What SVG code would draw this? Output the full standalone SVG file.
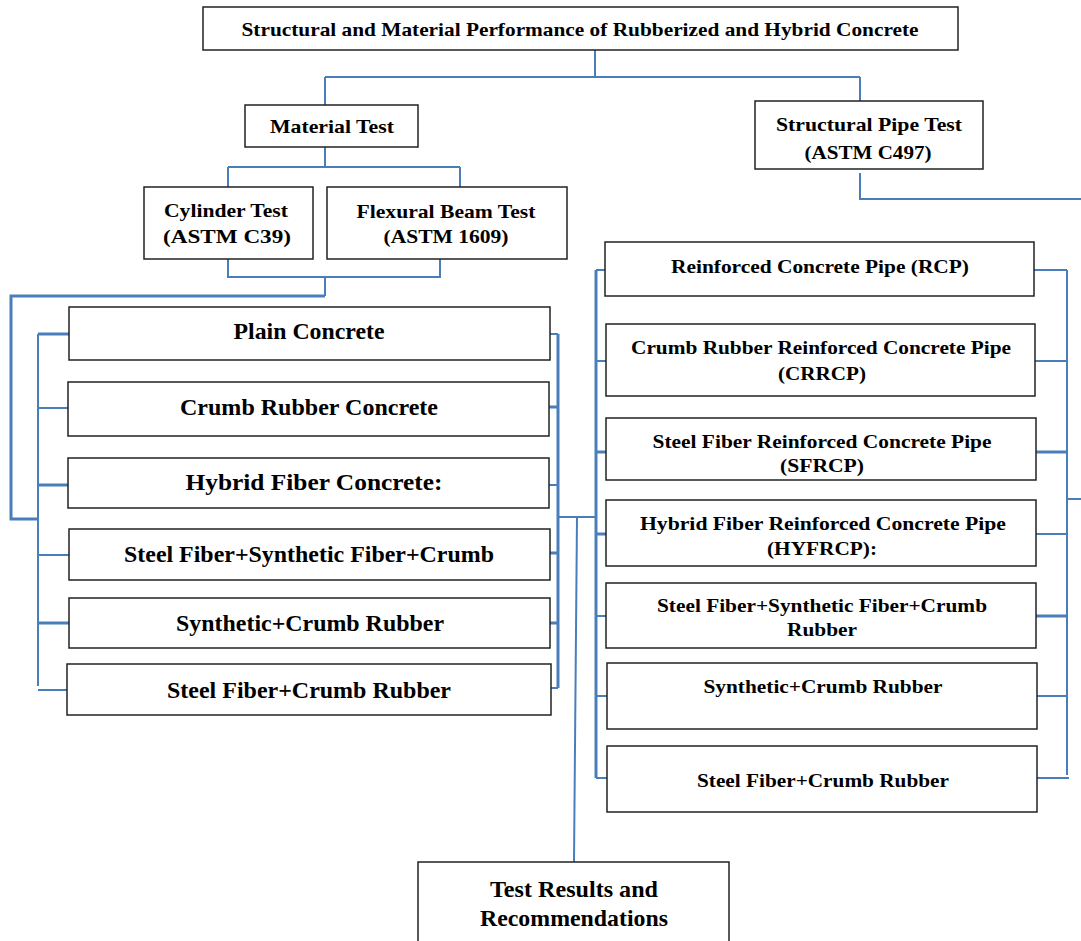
<svg xmlns="http://www.w3.org/2000/svg" width="1081" height="941" viewBox="0 0 1081 941">
<style>
.box{fill:#fff;stroke:#222;stroke-width:1.5}
.t{font-family:"Liberation Serif","Times New Roman",serif;font-weight:bold;fill:#000;text-anchor:middle}
.s17{font-size:18.5px}.s18{font-size:19.5px}.s21{font-size:23px}
.c{fill:none;stroke:#4a7ebb;stroke-width:2}
.ct{fill:none;stroke:#4a7ebb;stroke-width:3}
</style>
<rect width="1081" height="941" fill="#fff"/>
<g id="connectors">
<path class="c" d="M595,50V77M325,77H860M325,77V105M860,77V101"/>
<path class="c" d="M325,147V167M228,167H460M228,167V187M460,167V187"/>
<path class="c" d="M228,259V277H440V259M325,277V296"/>
<path class="ct" d="M325,296H11V519H38"/>
<path class="c" d="M38,334V686"/>
<path class="ct" d="M38,334H69M38,485H68M38,623H69"/>
<path class="c" d="M38,408H68M38,555H69M38,690H67"/>
<path class="ct" d="M558,334V688"/>
<path class="c" d="M550,334H558M549,485H558M551,688H558"/>
<path class="ct" d="M549,407H558M550,553H558M550,623H558"/>
<path class="c" d="M558,517H596"/>
<path class="c" d="M577,517L574,862" stroke-width="2.5"/>
<path class="ct" d="M596,270V778"/>
<path class="c" d="M596,270H605M596,361H606M596,616H606M596,696H607M596,778H607"/>
<path class="ct" d="M596,452H606M596,534H606"/>
<path class="c" d="M860,173V199H1081"/>
<path class="c" d="M1067,270V775M1067,499H1081"/>
<path class="c" d="M1034,270H1067M1035,361H1067M1036,534H1067M1037,696H1067M1037,778H1069"/>
<path class="ct" d="M1036,452H1067M1036,616H1067"/>
</g>
<g id="n-title"><rect class="box" x="203" y="7" width="755" height="43"/><text class="t s18" x="580" y="36" textLength="677" lengthAdjust="spacingAndGlyphs">Structural and Material Performance of Rubberized and Hybrid Concrete</text></g>
<g id="n-material"><rect class="box" x="245" y="105" width="173" height="42"/><text class="t s18" x="332" y="133" textLength="124" lengthAdjust="spacingAndGlyphs">Material Test</text></g>
<g id="n-pipe"><rect class="box" x="755" y="101" width="228" height="68"/><text class="t s18" x="869" y="131" textLength="186" lengthAdjust="spacingAndGlyphs">Structural Pipe Test</text><text class="t s18" x="868" y="159" textLength="127" lengthAdjust="spacingAndGlyphs">(ASTM C497)</text></g>
<g id="n-cylinder"><rect class="box" x="144" y="187" width="169" height="72"/><text class="t s18" x="226" y="217" textLength="124" lengthAdjust="spacingAndGlyphs">Cylinder Test</text><text class="t s18" x="227" y="243" textLength="128" lengthAdjust="spacingAndGlyphs">(ASTM C39)</text></g>
<g id="n-flexural"><rect class="box" x="327" y="187" width="240" height="72"/><text class="t s18" x="446" y="218" textLength="179" lengthAdjust="spacingAndGlyphs">Flexural Beam Test</text><text class="t s18" x="446" y="243" textLength="125" lengthAdjust="spacingAndGlyphs">(ASTM 1609)</text></g>
<g id="n-plain"><rect class="box" x="69" y="307" width="481" height="53"/><text class="t s21" x="309" y="339" textLength="151" lengthAdjust="spacingAndGlyphs">Plain Concrete</text></g>
<g id="n-crumb"><rect class="box" x="68" y="382" width="481" height="54"/><text class="t s21" x="309" y="415" textLength="258" lengthAdjust="spacingAndGlyphs">Crumb Rubber Concrete</text></g>
<g id="n-hybrid"><rect class="box" x="68" y="458" width="481" height="50"/><text class="t s21" x="314" y="490" textLength="257" lengthAdjust="spacingAndGlyphs">Hybrid Fiber Concrete:</text></g>
<g id="n-ssc"><rect class="box" x="69" y="529" width="481" height="51"/><text class="t s21" x="309" y="562" textLength="370" lengthAdjust="spacingAndGlyphs">Steel Fiber+Synthetic Fiber+Crumb</text></g>
<g id="n-sc"><rect class="box" x="69" y="598" width="481" height="50"/><text class="t s21" x="310" y="631" textLength="268" lengthAdjust="spacingAndGlyphs">Synthetic+Crumb Rubber</text></g>
<g id="n-stc"><rect class="box" x="67" y="664" width="484" height="51"/><text class="t s21" x="309" y="698" textLength="284" lengthAdjust="spacingAndGlyphs">Steel Fiber+Crumb Rubber</text></g>
<g id="n-rcp"><rect class="box" x="605" y="242" width="429" height="54"/><text class="t s17" x="820" y="273" textLength="298" lengthAdjust="spacingAndGlyphs">Reinforced Concrete Pipe (RCP)</text></g>
<g id="n-crrcp"><rect class="box" x="606" y="324" width="429" height="72"/><text class="t s17" x="821" y="354" textLength="380" lengthAdjust="spacingAndGlyphs">Crumb Rubber Reinforced Concrete Pipe</text><text class="t s17" x="822" y="380" textLength="88" lengthAdjust="spacingAndGlyphs">(CRRCP)</text></g>
<g id="n-sfrcp"><rect class="box" x="606" y="418" width="430" height="62"/><text class="t s17" x="822" y="448" textLength="339" lengthAdjust="spacingAndGlyphs">Steel Fiber Reinforced Concrete Pipe</text><text class="t s17" x="822" y="472" textLength="84" lengthAdjust="spacingAndGlyphs">(SFRCP)</text></g>
<g id="n-hyfrcp"><rect class="box" x="606" y="500" width="430" height="66"/><text class="t s17" x="823" y="530" textLength="366" lengthAdjust="spacingAndGlyphs">Hybrid Fiber  Reinforced Concrete Pipe</text><text class="t s17" x="822" y="555" textLength="110" lengthAdjust="spacingAndGlyphs">(HYFRCP):</text></g>
<g id="n-pssc"><rect class="box" x="606" y="583" width="430" height="65"/><text class="t s17" x="822" y="612" textLength="330" lengthAdjust="spacingAndGlyphs">Steel Fiber+Synthetic Fiber+Crumb</text><text class="t s17" x="822" y="636" textLength="70" lengthAdjust="spacingAndGlyphs">Rubber</text></g>
<g id="n-psc"><rect class="box" x="607" y="663" width="430" height="66"/><text class="t s17" x="823" y="693" textLength="239" lengthAdjust="spacingAndGlyphs">Synthetic+Crumb Rubber</text></g>
<g id="n-pstc"><rect class="box" x="607" y="746" width="430" height="66"/><text class="t s17" x="823" y="787" textLength="252" lengthAdjust="spacingAndGlyphs">Steel Fiber+Crumb Rubber</text></g>
<g id="n-results"><rect class="box" x="418" y="862" width="311" height="85"/><text class="t s21" x="574" y="897" textLength="168" lengthAdjust="spacingAndGlyphs">Test Results and</text><text class="t s21" x="574" y="926" textLength="188" lengthAdjust="spacingAndGlyphs">Recommendations</text></g>
</svg>
